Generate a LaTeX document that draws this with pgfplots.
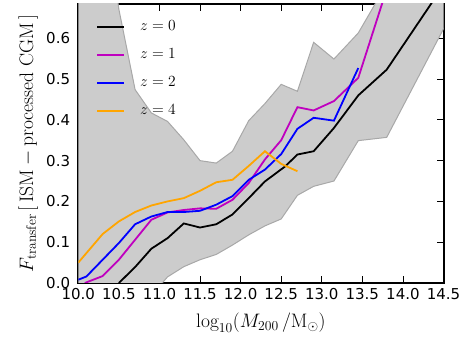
\RequirePackage{fix-cm}
\documentclass[border=0pt]{standalone}
\usepackage{fontspec}
\newfontfamily\dejavu{DejaVu Sans}
\usepackage{pgfplots}
\pgfplotsset{compat=1.18}
\definecolor{zmag}{rgb}{0.75,0,0.75}
\definecolor{zorange}{HTML}{FFA500}
\definecolor{bandfill}{HTML}{CCCCCC}
\definecolor{bandedge}{HTML}{A8A8A8}

\begin{document}
\begin{tikzpicture}
\begin{axis}[
  scale only axis, width=365.2pt, height=279pt,
  at={(0pt,0pt)}, anchor=south west,
  xmin=10, xmax=14.5, ymin=0, ymax=0.684,
  xtick={10,10.5,11,11.5,12,12.5,13,13.5,14,14.5},
  ytick={0,0.1,0.2,0.3,0.4,0.5,0.6},
  tick align=inside, major tick length=7pt,
  tick style={line width=0.8pt, black},
  axis line style={line width=2pt},
  ticklabel style={font=\dejavu\fontsize{15}{15}\selectfont,
    /pgf/number format/assume math mode=true,
    /pgf/number format/fixed, /pgf/number format/fixed zerofill,
    /pgf/number format/precision=1},
  xticklabel style={inner sep=0pt, yshift=-5pt},
  yticklabel style={inner sep=0pt, xshift=-8pt},
  xlabel={$\log_{10}(M_{200}\,/{\rm M}_\odot)$},
  ylabel={$F_{\rm transfer}\,[\,{\rm ISM - processed\ CGM}\,]$},
  xlabel style={at={(axis description cs:0.5,-0.161)}, anchor=base,
    font=\fontsize{19.5}{20}\selectfont},
  ylabel style={at={(axis description cs:-0.124,0.5)}, anchor=base,
    font=\fontsize{19.5}{20}\selectfont},
  legend style={at={(axis description cs:0.041,0.950)}, anchor=north west,
    draw=none, fill=none, font=\fontsize{15.5}{15.5}\selectfont,
    row sep=15.1pt, column sep=15pt,
    nodes={inner sep=0pt, text height=10pt, text depth=3pt}},
  legend cell align=left,
  legend image code/.code={\draw[#1] (0pt,0pt) -- (26.6pt,0pt);},
  legend image post style={line width=2pt},
]
% scatter band (upper edge left to right, lower edge back)
\addplot[fill=bandfill, draw=bandedge, line width=1pt, forget plot] coordinates {
  (9.9,1.0) (10.1,1.0) (10.3,0.95) (10.5,0.671) (10.7,0.474) (10.9,0.417)
  (11.1,0.396) (11.3,0.351) (11.5,0.300) (11.7,0.294) (11.9,0.323)
  (12.1,0.398) (12.3,0.440) (12.5,0.487) (12.7,0.470) (12.9,0.590)
  (13.15,0.549) (13.45,0.613) (13.85,0.75) (14.6,1.0)
  (14.6,0.661) (13.8,0.357) (13.45,0.349) (13.15,0.250) (12.9,0.237)
  (12.7,0.215) (12.5,0.157) (12.3,0.140) (12.1,0.118) (11.9,0.093)
  (11.7,0.070) (11.5,0.057) (11.3,0.040) (11.1,0.015) (10.9,-0.03)
  (9.9,-0.2)
} -- cycle;

\addplot[black, line width=1.8pt] coordinates {
  (10.5,0.0) (10.7,0.039) (10.9,0.084) (11.1,0.110) (11.3,0.146)
  (11.5,0.136) (11.7,0.144) (11.9,0.168) (12.1,0.208) (12.3,0.249)
  (12.55,0.286) (12.7,0.315) (12.9,0.323) (13.15,0.380) (13.45,0.460)
  (13.8,0.523) (14.4,0.700)
};
\addplot[zmag, line width=1.8pt] coordinates {
  (10.08,0.0) (10.3,0.017) (10.5,0.057) (10.7,0.106) (10.9,0.155)
  (11.1,0.173) (11.3,0.179) (11.5,0.183) (11.7,0.182) (11.9,0.204)
  (12.1,0.245) (12.3,0.303) (12.5,0.350) (12.7,0.431) (12.9,0.423)
  (13.15,0.446) (13.45,0.503) (13.8,0.72)
};
\addplot[blue, line width=1.8pt] coordinates {
  (10.0,0.008) (10.1,0.016) (10.3,0.057) (10.5,0.098) (10.7,0.144)
  (10.9,0.163) (11.1,0.174) (11.3,0.174) (11.5,0.177) (11.7,0.192)
  (11.9,0.213) (12.1,0.253) (12.3,0.278) (12.5,0.316) (12.7,0.378)
  (12.9,0.405) (13.15,0.398) (13.45,0.527)
};
\addplot[zorange, line width=1.8pt] coordinates {
  (10.0,0.050) (10.3,0.120) (10.5,0.151) (10.7,0.174) (10.9,0.190)
  (11.1,0.200) (11.3,0.208) (11.5,0.226) (11.7,0.247) (11.9,0.253)
  (12.1,0.287) (12.3,0.323) (12.5,0.292) (12.7,0.274)
};
\legend{$z=0$,$z=1$,$z=2$,$z=4$}
\end{axis}
\pgfresetboundingbox
\path[use as bounding box] (-78.3pt,-62pt) rectangle (381.7pt,283pt);
\end{tikzpicture}
\end{document}
